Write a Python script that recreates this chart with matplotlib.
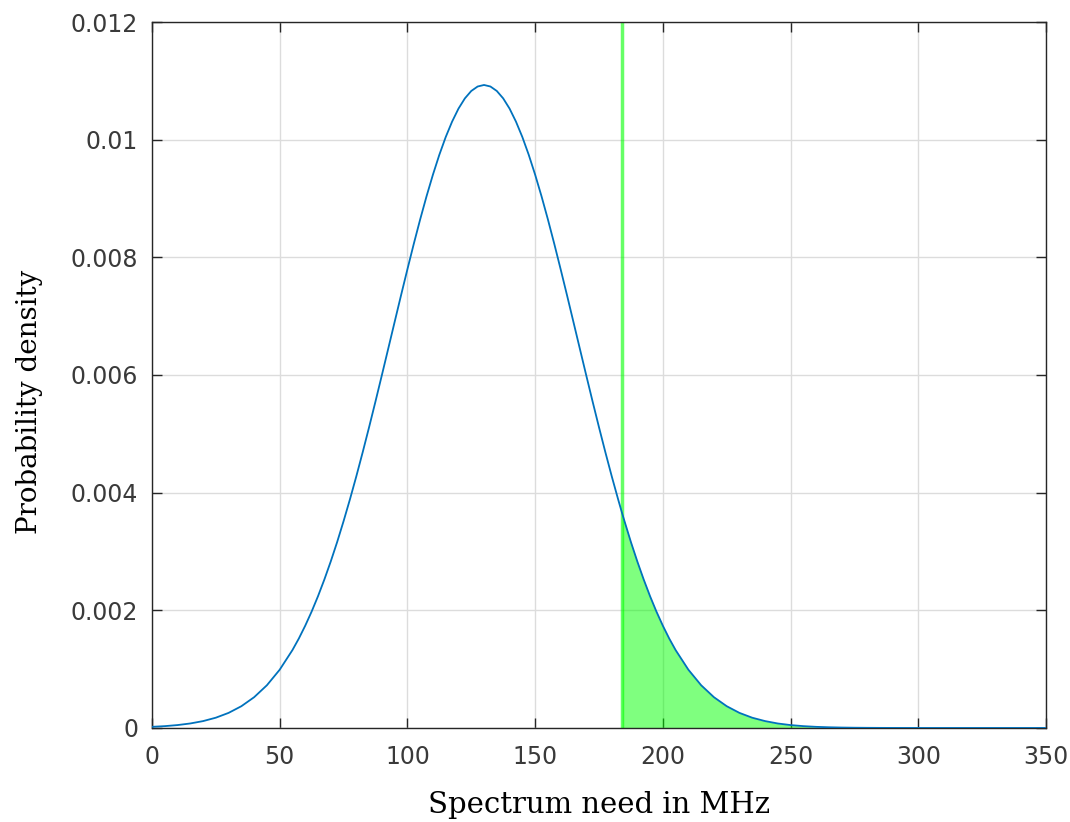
import matplotlib
matplotlib.use("Agg")
import matplotlib.pyplot as plt

# density values (MHz -> probability density)
spectrum_mhz = [0, 5, 10, 15, 20, 25, 30, 35, 40, 45, 50, 55, 57.5, 60, 62.5,
                65, 67.5, 70, 72.5, 75, 77.5, 80, 82.5, 85, 87.5, 90, 92.5,
                95, 97.5, 100, 102.5, 105, 107.5, 110, 112.5, 115, 117.5, 120,
                122.5, 125, 127.5, 130, 132.5, 135, 137.5, 140, 142.5, 145,
                147.5, 150, 152.5, 155, 157.5, 160, 162.5, 165, 167.5, 170,
                172.5, 175, 177.5, 180, 182.5, 184, 185, 187.5, 190, 192.5,
                195, 197.5, 200, 202.5, 205, 210, 215, 220, 225, 230, 235,
                240, 245, 250, 255, 260, 265, 270, 275, 280, 285, 290, 300,
                310, 320, 330, 340, 350]
density = [0.0000192, 0.0000310, 0.0000491, 0.0000764, 0.0001165, 0.0001744,
           0.0002562, 0.0003696, 0.0005228, 0.0007259, 0.0009895, 0.001324,
           0.001520, 0.001738, 0.001977, 0.002239, 0.002524, 0.002831,
           0.003160, 0.003513, 0.003885, 0.004277, 0.004687, 0.005112,
           0.005549, 0.005996, 0.006448, 0.006901, 0.007353, 0.007796,
           0.008229, 0.008645, 0.009039, 0.009406, 0.009743, 0.010045,
           0.010307, 0.010528, 0.010702, 0.010828, 0.010904, 0.010930,
           0.010904, 0.010828, 0.010702, 0.010528, 0.010307, 0.010045,
           0.009743, 0.009406, 0.009039, 0.008645, 0.008229, 0.007796,
           0.007353, 0.006901, 0.006448, 0.005996, 0.005549, 0.005112,
           0.004687, 0.004277, 0.003885, 0.003658, 0.003513, 0.003160,
           0.002831, 0.002524, 0.002239, 0.001977, 0.001738, 0.001520,
           0.001324, 0.000990, 0.000726, 0.000523, 0.000370, 0.000256,
           0.000174, 0.000117, 0.000076, 0.000049, 0.000031, 0.000019,
           0.0000117, 0.0000070, 0.0000041, 0.0000024, 0.0000013, 0.0000007,
           0.0, 0.0, 0.0, 0.0, 0.0, 0.0]
threshold_mhz = 184

x_ticks = [0, 50, 100, 150, 200, 250, 300, 350]
y_ticks = [0, 0.002, 0.004, 0.006, 0.008, 0.01, 0.012]
y_tick_labels = ["0", "0.002", "0.004", "0.006", "0.008", "0.01", "0.012"]

fig = plt.figure(figsize=(10.7, 8.22), dpi=100)
ax = fig.add_axes([0.142, 0.1144, 0.8356, 0.8588])

ax.plot(spectrum_mhz, density, color="#0072BD", linewidth=1.3, zorder=3)

tail_x = [x for x in spectrum_mhz if x >= threshold_mhz]
tail_y = [d for x, d in zip(spectrum_mhz, density) if x >= threshold_mhz]
ax.fill_between(tail_x, 0, tail_y, color="#00ff00", alpha=0.5,
                linewidth=0, zorder=2, clip_on=False)
ax.axvline(threshold_mhz, color="#00ff00", alpha=0.6, linewidth=2.5, zorder=2)

ax.set_xlim(0, 350)
ax.set_ylim(0, 0.012)
ax.set_xticks(x_ticks)
ax.set_xticklabels([str(t) for t in x_ticks])
ax.set_yticks(y_ticks)
ax.set_yticklabels(y_tick_labels)

ax.grid(True, color="#dcdcdc", linewidth=1.0, zorder=0)
ax.set_axisbelow(True)
for side in ax.spines.values():
    side.set_color("#262626")
    side.set_linewidth(1.0)
ax.tick_params(direction="in", length=7, width=1.0, colors="#262626",
               labelsize=17, top=True, right=True)
ax.tick_params(axis="x", pad=12)
ax.tick_params(axis="y", pad=10)
for lbl in ax.get_xticklabels() + ax.get_yticklabels():
    lbl.set_family(["DejaVu Sans"])
    lbl.set_color("#3a3a3a")

ax.set_xlabel("Spectrum need in MHz", fontsize=21,
              family=["DejaVu Serif"], labelpad=16)
ax.set_ylabel("Probability density", fontsize=20,
              family=["DejaVu Serif"])
ax.yaxis.set_label_coords(-0.122, 0.462)

fig.savefig("out.png", dpi=100)
plt.close(fig)
